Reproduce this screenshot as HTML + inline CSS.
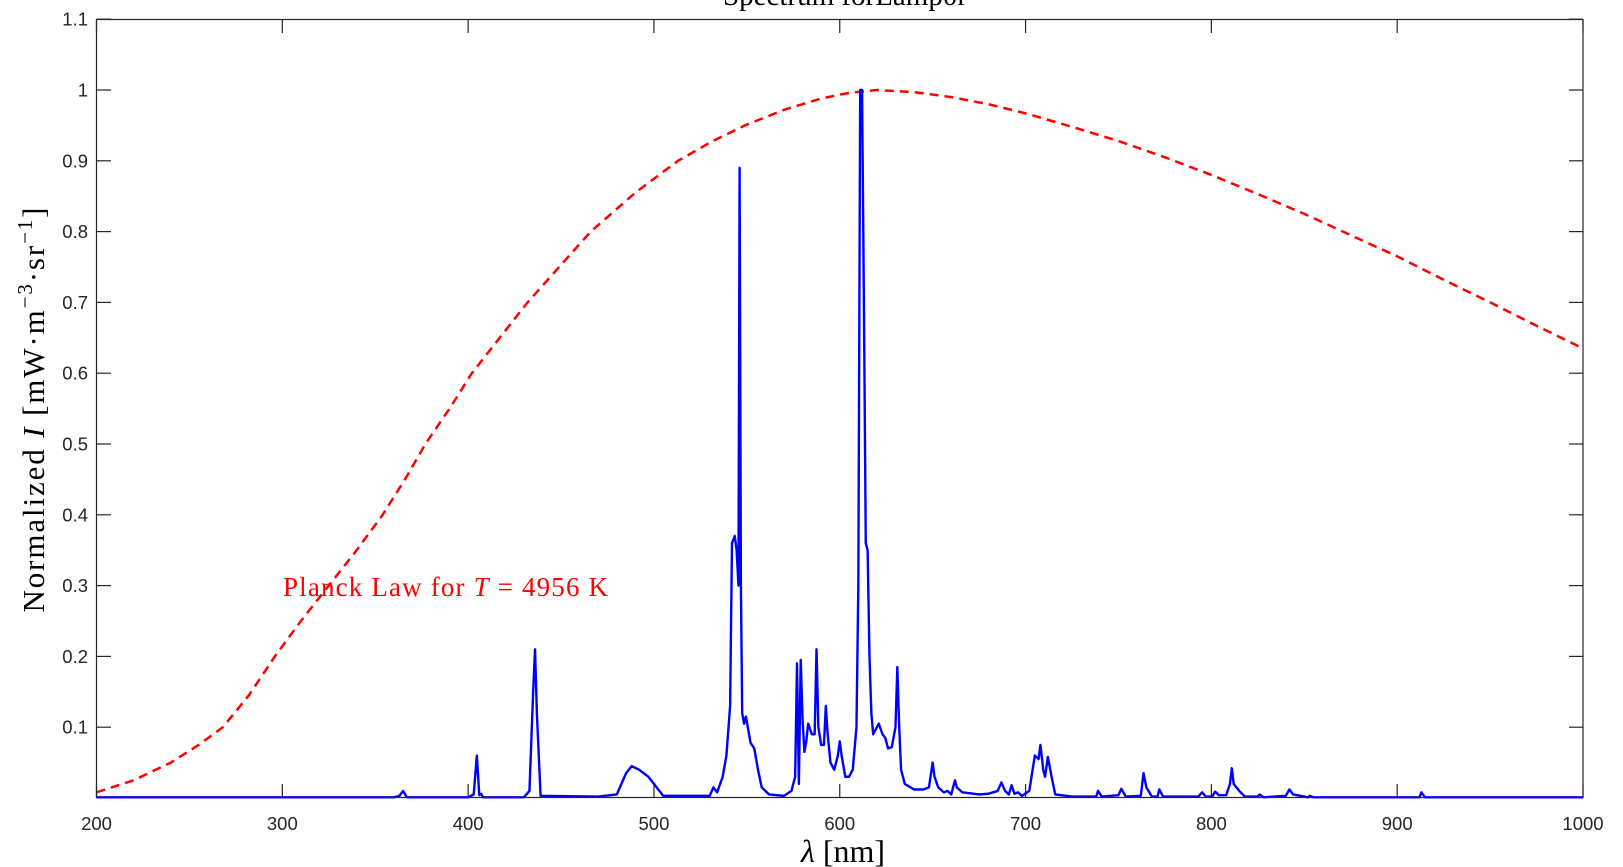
<!DOCTYPE html>
<html><head><meta charset="utf-8">
<style>
body{margin:0;background:#fff;}
svg{display:block;}
.tick{font-family:"Liberation Sans",sans-serif;font-size:18.5px;fill:#262626;}
.ser{font-family:"Liberation Serif",serif;}
</style></head>
<body>
<svg id="chart" width="1623" height="867" viewBox="0 0 1623 867" xmlns="http://www.w3.org/2000/svg">
<text class="ser" x="845" y="5" font-size="29" text-anchor="middle" fill="#000">Spectrum forLamp0r</text>
<g id="grid"></g>
<path id="planck" fill="none" stroke="#ff0000" stroke-width="2.5" stroke-dasharray="9,6"/>
<path id="spec" fill="none" stroke="#0000ff" stroke-width="2.4" stroke-linejoin="round"/>
<rect x="96.5" y="19.5" width="1486.5" height="778" fill="none" stroke="#262626" stroke-width="1.2"/>
<text class="ser" x="283" y="596" font-size="27" fill="#ff0000" textLength="325">Planck Law for <tspan font-style="italic">T</tspan> = 4956 K</text>
<text class="ser" x="843" y="862" font-size="32" text-anchor="middle" fill="#000"><tspan font-style="italic">λ</tspan> [nm]</text>
<text class="ser" transform="translate(44,410) rotate(-90)" font-size="31" text-anchor="middle" fill="#000" textLength="405">Normalized <tspan font-style="italic">I</tspan> [mW·m<tspan dy="-12" font-size="21">−3</tspan><tspan dy="12">·sr</tspan><tspan dy="-12" font-size="21">−1</tspan><tspan dy="12">]</tspan></text>
</svg>
<script>
const xTicks=[200,300,400,500,600,700,800,900,1000];
const yTicks=[0.1,0.2,0.3,0.4,0.5,0.6,0.7,0.8,0.9,1,1.1];
const yTickLabels=["0.1","0.2","0.3","0.4","0.5","0.6","0.7","0.8","0.9","1","1.1"];
const planckWl=[200,220,240,255,268,282,296,310,325,340,354,366,377,390,402,417,432,449,466,490,513,531,549,570,590,605,620,640,660,680,700,725,750,775,800,825,850,875,900,925,950,975,1000];
const planckVal=[0.008,0.025,0.05,0.075,0.1,0.145,0.2,0.25,0.3,0.35,0.4,0.45,0.5,0.55,0.6,0.65,0.7,0.75,0.8,0.855,0.9,0.927,0.95,0.972,0.988,0.996,1.0,0.997,0.99,0.98,0.967,0.948,0.928,0.905,0.88,0.853,0.825,0.795,0.765,0.732,0.7,0.667,0.635];
const specWl=[200,360,363,365,367,400,403,404.7,406,407,408,430,433,435,436,437,439,470,480,485,488,492,497,500,505,530,532,534,537,539,541,542,543.5,544.5,545.5,546.1,546.8,547.5,548.5,549.5,550.5,552,554,556,558,562,570,574,576,577,578,579,580,581,582,583,585,586.5,587.5,588.5,590,591.5,592.5,593.5,595,597,599,600,601,603,605,607,609,610,611,612,613,614,615,616,617,618,620,621,623,624.5,626,628,630,631,632,633,635,640,645,648,650,651,653,656,658,660,662,663,666,675,680,685,687,689,691,692.5,694,696,698,702,705,707,708,709.5,710.5,712,714,716,725,738,739,741,750,751.5,754,762,763.5,765,768,771,772,774,793,795,797,800.5,802,804,808,810,811,812,815,818,825,826,828,840,842,844,852,853,855,912,913,915,1000];
const specVal=[0.001,0.001,0.003,0.01,0.001,0.001,0.005,0.06,0.004,0.006,0.001,0.001,0.01,0.15,0.21,0.12,0.003,0.002,0.005,0.035,0.045,0.04,0.03,0.02,0.003,0.003,0.015,0.008,0.03,0.06,0.13,0.36,0.37,0.35,0.3,0.89,0.3,0.12,0.105,0.115,0.1,0.078,0.07,0.04,0.015,0.005,0.003,0.01,0.03,0.19,0.02,0.195,0.11,0.065,0.08,0.105,0.09,0.09,0.21,0.1,0.075,0.075,0.13,0.09,0.05,0.04,0.06,0.08,0.06,0.03,0.03,0.04,0.1,0.3,1.0,1.0,0.7,0.36,0.35,0.2,0.12,0.09,0.1,0.105,0.09,0.085,0.07,0.072,0.1,0.185,0.1,0.04,0.02,0.012,0.012,0.015,0.05,0.03,0.015,0.008,0.01,0.005,0.025,0.015,0.008,0.005,0.006,0.01,0.022,0.01,0.005,0.018,0.006,0.008,0.003,0.01,0.06,0.055,0.075,0.04,0.03,0.058,0.03,0.005,0.002,0.002,0.01,0.002,0.004,0.013,0.002,0.003,0.035,0.015,0.002,0.002,0.012,0.002,0.002,0.008,0.002,0.002,0.009,0.004,0.004,0.02,0.042,0.02,0.01,0.002,0.002,0.005,0.001,0.003,0.012,0.005,0.001,0.003,0.001,0.001,0.008,0.001,0.001];

const X=nm=>96.5+(nm-200)*(1486.5/800);
const Y=v=>798-v*708;
const NS="http://www.w3.org/2000/svg";
const g=document.getElementById('grid');
function line(x1,y1,x2,y2,name){
  const l=document.createElementNS(NS,'line');
  l.setAttribute('x1',x1);l.setAttribute('y1',y1);l.setAttribute('x2',x2);l.setAttribute('y2',y2);
  l.setAttribute('stroke','#262626');l.setAttribute('stroke-width','1.2');
  
  
  g.appendChild(l);
}
function txt(x,y,s,anchor,name){
  const t=document.createElementNS(NS,'text');
  t.setAttribute('x',x);t.setAttribute('y',y);t.setAttribute('text-anchor',anchor);t.setAttribute('class','tick');
  t.textContent=s;
  
  
  g.appendChild(t);
}
xTicks.forEach(v=>{
  const x=X(v);
  line(x,798,x,784,'x-tick');
  line(x,19.5,x,33,'x-tick-top');
  txt(x,830,String(v),'middle','x-tick-label');
});
yTicks.forEach((v,i)=>{
  const y=Y(v);
  line(96.5,y,111,y,'y-tick');
  line(1583,y,1569,y,'y-tick-right');
  txt(88,y+6.5,yTickLabels[i],'end','y-tick-label');
});
function path(xs,vs){return xs.map((w,i)=>(i?'L':'M')+X(w).toFixed(2)+','+Y(vs[i]).toFixed(2)).join(' ');}
document.getElementById('planck').setAttribute('d',path(planckWl,planckVal));
document.getElementById('spec').setAttribute('d',path(specWl,specVal));
</script>
</body></html>
